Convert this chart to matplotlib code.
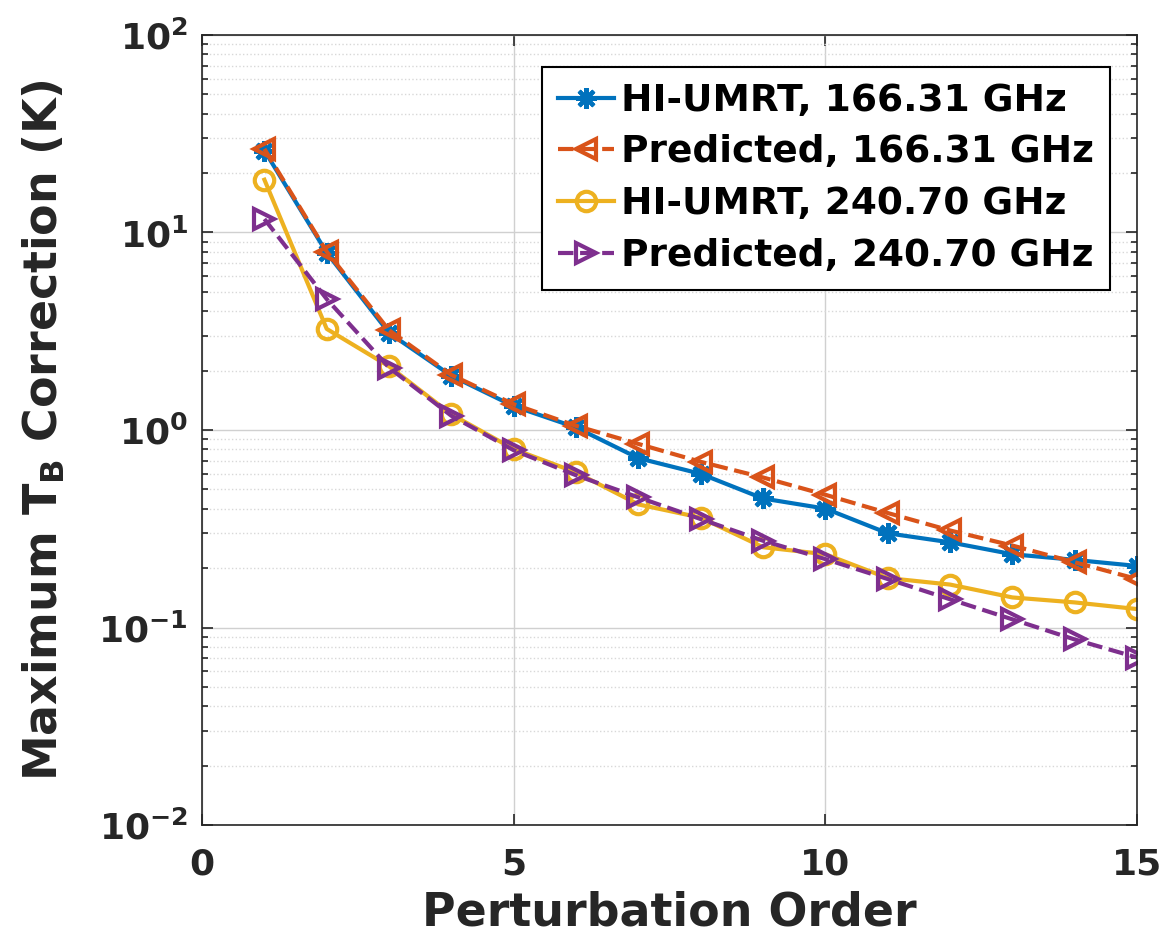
import matplotlib.pyplot as plt
import numpy as np

plt.rcParams['font.family'] = ['DejaVu Sans']
plt.rcParams['font.weight'] = 'bold'
plt.rcParams['mathtext.default'] = 'bf'

order = np.arange(1, 16)
labels = ['HI-UMRT, 166.31 GHz', 'Predicted, 166.31 GHz',
          'HI-UMRT, 240.70 GHz', 'Predicted, 240.70 GHz']

umrt_166 = [26.0, 7.9, 3.1, 1.88, 1.32, 1.03, 0.72, 0.60, 0.45, 0.40,
            0.30, 0.27, 0.235, 0.22, 0.205]
pred_166 = [26.5, 8.0, 3.2, 1.90, 1.35, 1.05, 0.85, 0.69, 0.575, 0.47,
            0.38, 0.31, 0.26, 0.214, 0.176]
umrt_240 = [18.5, 3.25, 2.1, 1.2, 0.80, 0.61, 0.42, 0.36, 0.255, 0.235,
            0.178, 0.165, 0.142, 0.134, 0.124]
pred_240 = [11.7, 4.6, 2.07, 1.18, 0.79, 0.59, 0.456, 0.354, 0.275, 0.222,
            0.176, 0.139, 0.110, 0.087, 0.0705]

dark = '#262626'
fig = plt.figure(figsize=(11.68, 9.4), dpi=100)
ax = fig.add_axes([0.173, 0.1223, 0.8005, 0.8405])

lw = 3
ax.plot(order, umrt_166, '-', marker=(8, 2, 0), color='#0072BD', lw=lw, ms=15, mew=3, label=labels[0])
ax.plot(order, pred_166, '--', marker='<', color='#D95319', lw=lw, ms=14, mew=3,
        mfc='none', label=labels[1])
ax.plot(order, umrt_240, '-', marker='o', color='#EDB120', lw=lw, ms=14, mew=3,
        mfc='none', label=labels[2])
ax.plot(order, pred_240, '--', marker='>', color='#7E2F8E', lw=lw, ms=14, mew=3,
        mfc='none', label=labels[3])

ax.set_yscale('log')
ax.set_ylim(1e-2, 1e2)
ax.set_xlim(0, 15)
ax.set_xticks([0, 5, 10, 15])
ax.grid(True, which='major', color='#d0d0d0', lw=1)
ax.grid(True, which='minor', axis='y', color='#d8d8d8', lw=1, ls=':')
ax.tick_params(which='both', direction='in', top=True, right=True, colors=dark,
               labelsize=26, width=1.2)
ax.tick_params(which='major', length=8)
ax.tick_params(which='minor', length=4)
ax.tick_params(axis='x', pad=16)
ax.tick_params(axis='y', pad=10)
for s in ax.spines.values():
    s.set_color(dark)
    s.set_linewidth(1.2)

ax.set_xlabel('Perturbation Order', fontsize=33, color=dark, fontweight='bold', labelpad=7)
ax.set_ylabel(r'Maximum T$_B$ Correction (K)', fontsize=33, color=dark, fontweight='bold',
              labelpad=22)

leg = ax.legend(loc='upper right', bbox_to_anchor=(0.971, 0.9595), fontsize=27,
                fancybox=False, edgecolor='black', framealpha=1,
                handlelength=1.5, handletextpad=0.2, borderpad=0.42, labelspacing=0.42,
                borderaxespad=0)
leg.get_frame().set_linewidth(1.5)
for t in leg.get_texts():
    t.set_fontweight('bold')

fig.savefig('out.png', dpi=100)
